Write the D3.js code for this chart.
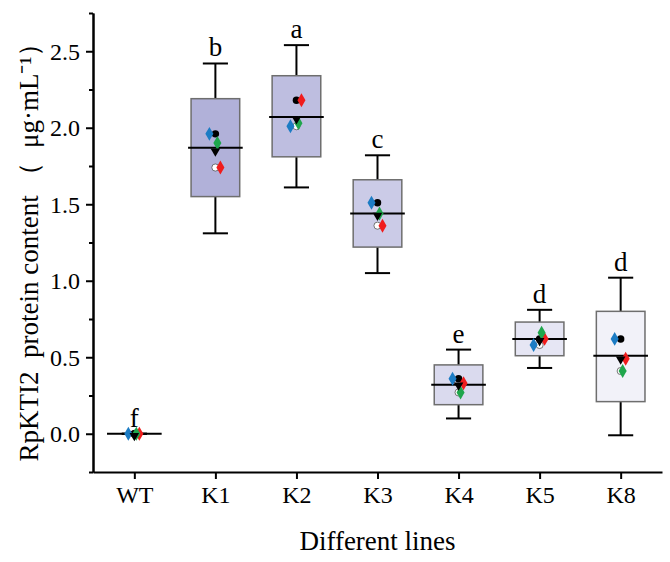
<!DOCTYPE html>
<html>
<head>
<meta charset="utf-8">
<script src="https://cdn.jsdelivr.net/npm/d3@7"></script>
<style>
  body { margin: 0; background: #fff; }
  svg text { font-family: "Liberation Serif", "Times New Roman", serif; fill: #000; }
</style>
</head>
<body>
<div id="chart"></div>
<script>
// categories and box statistics
var lines = ['WT', 'K1', 'K2', 'K3', 'K4', 'K5', 'K8'];
var whiskerHigh = [0, 2.42, 2.54, 1.82, 0.55, 0.81, 1.02];
var q3 = [0, 2.19, 2.34, 1.66, 0.45, 0.73, 0.80];
var medians = [0, 1.87, 2.07, 1.44, 0.32, 0.62, 0.51];
var q1 = [0, 1.55, 1.81, 1.22, 0.19, 0.51, 0.21];
var whiskerLow = [0, 1.31, 1.61, 1.05, 0.10, 0.43, -0.01];
var means = [0, 1.86, 2.07, 1.44, 0.33, 0.62, 0.50];
var letters = ['f', 'b', 'a', 'c', 'e', 'd', 'd'];

// individual replicates
var blueVals = [0, 1.96, 2.01, 1.51, 0.36, 0.58, 0.62];
var blackVals = [0, 1.96, 2.18, 1.51, 0.36, 0.62, 0.62];
var greenVals = [0, 1.90, 2.03, 1.44, 0.27, 0.66, 0.41];
var redVals = [0, 1.74, 2.18, 1.36, 0.33, 0.62, 0.49];
var openVals = [0, 1.74, 2.01, 1.36, 0.27, 0.58, 0.41];

var yTicks = [0, 0.5, 1.0, 1.5, 2.0, 2.5];
var yMinor = [-0.25, 0.25, 0.75, 1.25, 1.75, 2.25, 2.75];

var boxFills = ['#ffffff', '#b1b1d9', '#bebee0', '#cbcbe7', '#dadaee', '#e6e6f4', '#f2f2f9'];

var fullWidth = 670, fullHeight = 562;
var margin = {top: 13, right: 8, bottom: 90, left: 93};
var width = fullWidth - margin.left - margin.right;
var height = fullHeight - margin.top - margin.bottom;

var svg = d3.select('#chart').append('svg')
  .attr('width', fullWidth)
  .attr('height', fullHeight);

var g = svg.append('g')
  .attr('transform', 'translate(' + margin.left + ',' + margin.top + ')');

var x = d3.scalePoint()
  .domain(lines)
  .range([0, width])
  .padding(0.51);

var y = d3.scaleLinear()
  .domain([-0.25, 2.75])
  .range([height, 0]);

var step = x.step();
var boxW = step * 0.6;
var capW = step * 0.31;

var rows = lines.map(function(l, i) {
  return {line: l, hi: whiskerHigh[i], q3: q3[i], med: medians[i], q1: q1[i],
    lo: whiskerLow[i], mean: means[i], letter: letters[i], fill: boxFills[i]};
});

var boxes = g.selectAll('g.box')
  .data(rows)
  .enter().append('g')
  .attr('class', 'box')
  .attr('transform', function(d) { return 'translate(' + x(d.line) + ',0)'; });

// whiskers
boxes.append('line')
  .attr('x1', 0).attr('x2', 0)
  .attr('y1', function(d) { return y(d.hi); })
  .attr('y2', function(d) { return y(d.lo); })
  .attr('stroke', '#000').attr('stroke-width', 2);
boxes.append('line')
  .attr('x1', -capW / 2).attr('x2', capW / 2)
  .attr('y1', function(d) { return y(d.hi); })
  .attr('y2', function(d) { return y(d.hi); })
  .attr('stroke', '#000').attr('stroke-width', 2);
boxes.append('line')
  .attr('x1', -capW / 2).attr('x2', capW / 2)
  .attr('y1', function(d) { return y(d.lo); })
  .attr('y2', function(d) { return y(d.lo); })
  .attr('stroke', '#000').attr('stroke-width', 2);

// box body
boxes.filter(function(d) { return d.q3 > d.q1; })
  .append('rect')
  .attr('x', -boxW / 2)
  .attr('width', boxW)
  .attr('y', function(d) { return y(d.q3); })
  .attr('height', function(d) { return y(d.q1) - y(d.q3); })
  .attr('fill', function(d) { return d.fill; })
  .attr('stroke', '#6e6e6e')
  .attr('stroke-width', 1.5);

// significance letters
boxes.append('text')
  .attr('x', 0)
  .attr('y', function(d) { return y(d.hi) - 7; })
  .attr('text-anchor', 'middle')
  .style('font-size', '27px')
  .text(function(d) { return d.letter; });

// replicate points
function drawPoints(vals, dx, shape, fill, stroke, size) {
  g.selectAll(null)
    .data(vals)
    .enter().append('path')
    .attr('d', d3.symbol().type(shape).size(size))
    .attr('transform', function(d, i) { return 'translate(' + (x(lines[i]) + dx) + ',' + y(d) + ')'; })
    .attr('fill', fill)
    .attr('stroke', stroke)
    .attr('stroke-width', 0.8);
}
drawPoints(openVals, 0, d3.symbolCircle, '#fff', '#555', 40);
drawPoints(blackVals, 0, d3.symbolCircle, '#000', 'none', 44);
drawPoints(blueVals, -6, d3.symbolDiamond, '#1c7cc4', 'none', 56);
drawPoints(redVals, 5, d3.symbolDiamond, '#f01c1c', 'none', 56);
drawPoints(greenVals, 2, d3.symbolDiamond, '#1fa64c', 'none', 56);

// mean (down triangle)
g.selectAll('path.mean')
  .data(means)
  .enter().append('path')
  .attr('class', 'mean')
  .attr('d', d3.symbol().type(d3.symbolTriangle).size(40))
  .attr('transform', function(d, i) { return 'translate(' + x(lines[i]) + ',' + (y(d) + 2) + ') rotate(180)'; })
  .attr('fill', '#000');

// median line
boxes.append('line')
  .attr('x1', -boxW / 2 - 3).attr('x2', boxW / 2 + 3)
  .attr('y1', function(d) { return y(d.med); })
  .attr('y2', function(d) { return y(d.med); })
  .attr('stroke', '#000').attr('stroke-width', 2);

// axes
var yAxis = d3.axisLeft(y).tickValues(yTicks).tickSize(7).tickSizeOuter(0)
  .tickFormat(d3.format('.1f'));
var yMinorAxis = d3.axisLeft(y).tickValues(yMinor).tickSize(4).tickSizeOuter(0).tickFormat('');
var xAxis = d3.axisBottom(x).tickSize(7).tickSizeOuter(0);

var yMin = g.append('g').call(yMinorAxis);
var yEl = g.append('g').call(yAxis);
var xEl = g.append('g').attr('transform', 'translate(0,' + height + ')').call(xAxis);

[yMin, yEl, xEl].forEach(function(a) {
  a.select('.domain').attr('stroke', '#000').attr('stroke-width', 2);
  a.selectAll('.tick line').attr('stroke', '#000').attr('stroke-width', 2);
});
yEl.selectAll('.tick text')
  .style('font-size', '24px')
  .style('font-family', '"Liberation Serif", serif')
  .attr('x', -13)
  .attr('dy', '0.34em');
xEl.selectAll('.tick text')
  .style('font-size', '24px')
  .style('font-family', '"Liberation Serif", serif')
  .attr('y', 12)
  .attr('dy', '0.8em');

// axis titles
svg.append('text')
  .attr('x', margin.left + width / 2)
  .attr('y', 550)
  .attr('text-anchor', 'middle')
  .style('font-size', '27px')
  .text('Different lines');

svg.append('text')
  .attr('transform', 'translate(38,' + (margin.top + height / 2 + 3) + ') rotate(-90)')
  .attr('text-anchor', 'middle')
  .style('font-size', '27px')
  .style('white-space', 'pre')
  .text('RpKTI2  protein content （  μg·mL⁻¹）');
</script>
</body>
</html>
